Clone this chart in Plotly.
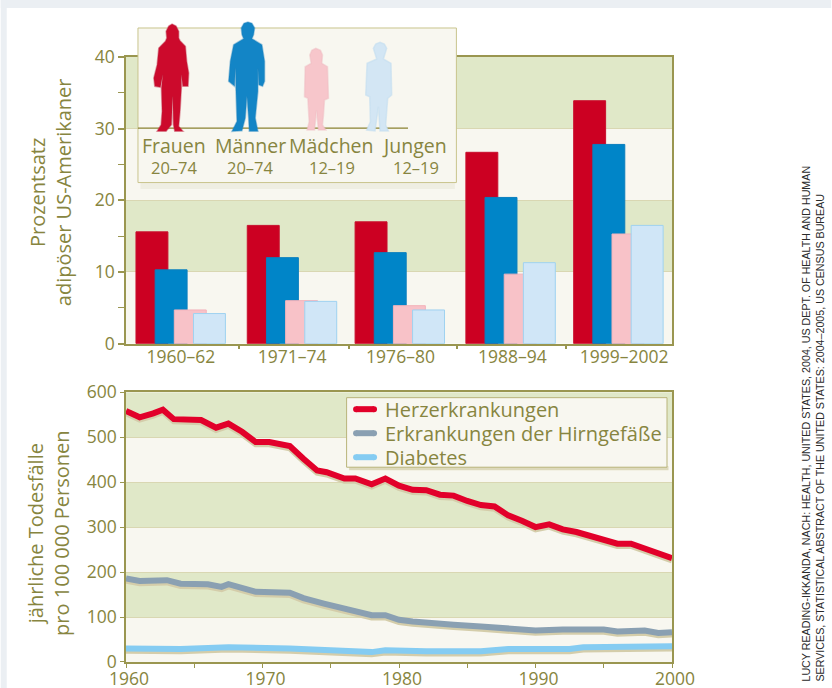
import plotly.graph_objects as go

W, H = 832, 688
# ---------- data ----------
periods = ["1960–62", "1971–74", "1976–80", "1988–94", "1999–2002"]
frauen = [15.6, 16.5, 17.0, 26.7, 33.9]
maenner = [10.3, 12.0, 12.7, 20.4, 27.8]
maedchen = [4.7, 6.0, 5.3, 9.7, 15.3]
jungen = [4.2, 5.9, 4.7, 11.3, 16.5]

herz_years = [1960, 1961, 1962, 1962.7, 1963.5, 1965.5, 1966.6, 1967.5, 1968.5, 1969.5, 1970.5, 1972, 1973, 1974,
              1974.7, 1976, 1976.8, 1978, 1979, 1980, 1981, 1982, 1983, 1984, 1985, 1986, 1987, 1988, 1989, 1990,
              1991, 1992, 1993, 1994, 1995, 1996, 1997, 1998, 1999, 2000]
herz = [558, 544, 553, 561, 540, 538, 521, 530, 512, 489, 489, 480, 452, 426,
        422, 408, 408, 395, 408, 392, 383, 382, 372, 370, 358, 349, 346, 326, 314, 300,
        306, 295, 289, 280, 272, 263, 263, 252, 241, 231]
hirn_years = [1960, 1961, 1963, 1964, 1966, 1967, 1967.5, 1969.5, 1972, 1973, 1974.5, 1976, 1978, 1979, 1980, 1981,
              1982, 1984, 1986, 1988, 1989, 1990, 1992, 1995, 1996, 1998, 1999, 2000]
hirn = [186, 180, 182, 174, 173, 167, 173, 156, 154, 142, 130, 119, 104, 104, 94, 90,
        87, 83, 79, 76, 73, 70, 72, 72, 68, 70, 64.5, 66]
diab_years = [1960, 1964, 1967.5, 1972, 1978, 1979, 1982, 1984, 1986, 1988, 1990, 1991, 1992.5, 1993.5, 1997, 2000]
diab = [30, 29, 33, 30, 22, 26, 24, 25, 24, 29, 29, 31, 29, 33, 33, 35]

inset_names = ["Frauen", "Männer", "Mädchen", "Jungen"]
inset_ages = ["20–74", "20–74", "12–19", "12–19"]
credit = ("LUCY READING-IKKANDA, NACH: HEALTH, UNITED STATES, 2004, US DEPT. OF HEALTH AND HUMAN<br>"
          "SERVICES, STATISTICAL ABSTRACT OF THE UNITED STATES: 2004–2005, US CENSUS BUREAU")

# ---------- style ----------
FONT = "Open Sans"
TXT = "#878540"
AX = "#9a9650"
GREEN = "#e0e8c8"
CREAM = "#f8f7f0"
GRID = "#d9d7b2"
SHADOW = "#d4cdaa"
L, R, T, B = 125.5, 672.5, 57, 661.7
TOP_BOTTOM, BOT_TOP = 343.5, 392


def px(x):
    return (x - L) / (R - L)


def py(y):
    return (B - y) / (B - T)


fig = go.Figure()

# ---------- bars: horizontal scale is plot pixels from the left axis ----------
group_left = [10, 121.5, 229.5, 340.5, 448.5]
bar_w = 32
bar_step = 19.2
bar_series = [("Frauen", frauen, "#cc0022", "#c8102e"), ("Männer", maenner, "#0085c8", "#0a7fbe"),
              ("Mädchen", maedchen, "#f8c2c8", "#f3b3bb"), ("Jungen", jungen, "#d0e6f7", "#9fd2f0")]
for i, (name, vals, col, edge) in enumerate(bar_series):
    fig.add_trace(go.Bar(x=[g + i * bar_step + bar_w / 2 for g in group_left], y=vals, width=bar_w, name=name,
                         marker=dict(color=col, line=dict(color=edge, width=1)), showlegend=False,
                         xaxis="x", yaxis="y"))

# ---------- lines ----------
SHIFT = 5
line_series = [("Herzerkrankungen", herz_years, herz, "#e2002a"),
               ("Erkrankungen der Hirngefäße", hirn_years, hirn, "#8aa0b2"),
               ("Diabetes", diab_years, diab, "#85ccf2")]
for name, xs, ys, col in line_series:
    fig.add_trace(go.Scatter(x=xs, y=[v - SHIFT for v in ys], mode="lines", showlegend=False, hoverinfo="skip",
                             line=dict(color=SHADOW, width=6), xaxis="x2", yaxis="y2"))
for name, xs, ys, col in line_series:
    fig.add_trace(go.Scatter(x=xs, y=ys, mode="lines", name=name, showlegend=False,
                             line=dict(color=col, width=6), xaxis="x2", yaxis="y2"))

# ---------- shapes ----------
shapes = []
# page edge
shapes.append(dict(type="rect", xref="paper", yref="paper", x0=px(0), x1=px(W), y0=py(8), y1=py(0), fillcolor="#ebeff3",
                   line_width=0, layer="below"))
shapes.append(dict(type="rect", xref="paper", yref="paper", x0=px(0), x1=px(6), y0=py(H), y1=py(0), fillcolor="#ebeff3",
                   line_width=0, layer="below"))
for lo in (10, 30):
    shapes.append(dict(type="rect", xref="x domain", yref="y", x0=0, x1=1, y0=lo, y1=lo + 10,
                       fillcolor=GREEN, line_width=0, layer="below"))
for lo in (100, 300, 500):
    shapes.append(dict(type="rect", xref="x2 domain", yref="y2", x0=0, x1=1, y0=lo, y1=lo + 100,
                       fillcolor=GREEN, line_width=0, layer="below"))
# inset box
shapes.append(dict(type="rect", xref="paper", yref="paper", x0=px(140), x1=px(455), y0=py(189), y1=py(182),
                   fillcolor="#efeee2", line_width=0, layer="above"))
shapes.append(dict(type="rect", xref="paper", yref="paper", x0=px(137.5), x1=px(456.5), y0=py(182.5), y1=py(28),
                   fillcolor=CREAM, line=dict(color="#c9c48c", width=1), layer="above"))


def outline(points, ox, oy):
    pts = [(ox + a / 3, oy + b / 3) for a, b in points]
    return "M " + " L ".join(f"{px(a):.5f} {py(b):.5f}" for a, b in pts) + " Z"


woman = [(62, 40), (70, 24), (80, 18), (92, 24), (100, 40), (100, 60), (104, 68), (120, 85), (124, 130), (130, 165),
         (128, 205), (112, 205), (108, 170), (108, 210), (104, 280), (100, 325), (113, 340), (88, 340), (84, 320),
         (82, 235), (78, 320), (62, 340), (35, 340), (47, 320), (50, 280), (48, 210), (52, 170), (45, 208), (28, 205),
         (25, 180), (35, 140), (40, 90), (60, 70), (64, 60)]
man = [(288, 30), (296, 16), (308, 12), (320, 16), (328, 30), (325, 50), (320, 62), (350, 80), (358, 130), (358, 190),
       (352, 205), (340, 200), (338, 150), (338, 220), (330, 300), (338, 340), (312, 340), (310, 300), (305, 235),
       (300, 300), (290, 338), (260, 340), (275, 310), (272, 220), (270, 150), (268, 205), (250, 190), (255, 130),
       (265, 80), (295, 62), (290, 50)]
girl = [(44, 60), (50, 46), (62, 40), (76, 46), (82, 60), (80, 85), (97, 95), (100, 190), (88, 195), (85, 240),
        (82, 270), (92, 285), (70, 285), (64, 225), (58, 285), (36, 285), (42, 260), (38, 190), (28, 185), (30, 95),
        (48, 85)]
boy = [(235, 40), (242, 27), (255, 22), (268, 27), (275, 40), (265, 72), (288, 85), (290, 180), (278, 190), (272, 270),
       (280, 288), (255, 288), (250, 215), (240, 288), (215, 285), (226, 260), (224, 185), (212, 180), (216, 85),
       (245, 72)]
figures = [(woman, 145, 18, "#cc0a2c", "rgba(190,30,60,0.4)"),
           (man, 145, 18, "#1385c6", "rgba(30,130,190,0.4)"),
           (girl, 295, 35, "#f7c6cb", "rgba(240,190,195,0.5)"),
           (boy, 295, 35, "#d3e6f4", "rgba(195,222,240,0.6)")]
shapes.append(dict(type="line", xref="paper", yref="paper", x0=px(137.5), x1=px(408), y0=py(128), y1=py(128),
                   line=dict(color="#8a8230", width=1.2), layer="above"))
for pts, ox, oy, col, edge in figures:
    shapes.append(dict(type="path", xref="paper", yref="paper", path=outline(pts, ox, oy), fillcolor=col,
                       line=dict(color=edge, width=1.5), layer="above"))
# legend box with shadow
shapes.append(dict(type="rect", xref="paper", yref="paper", x0=px(349), x1=px(669), y0=py(470), y1=py(466),
                   fillcolor="#ddd9bb", line_width=0, layer="above"))
shapes.append(dict(type="rect", xref="paper", yref="paper", x0=px(346.5), x1=px(667.5), y0=py(467), y1=py(397.5),
                   fillcolor=CREAM, line=dict(color="#b9b47a", width=1), layer="above"))

# ---------- annotations ----------
ann = []
name_x = [174, 250, 331, 415]
age_x = [174, 250, 332, 416]
for nm, ag, nx, ax in zip(inset_names, inset_ages, name_x, age_x):
    ann.append(dict(text=nm, x=px(nx), y=py(145), xref="paper", yref="paper", showarrow=False,
                    xanchor="center", yanchor="middle", font=dict(size=19.5, color=TXT, family=FONT)))
    ann.append(dict(text=ag, x=px(ax), y=py(167.5), xref="paper", yref="paper", showarrow=False,
                    xanchor="center", yanchor="middle", font=dict(size=16.5, color=TXT, family=FONT)))
ann.append(dict(text=credit, x=px(814), y=py(683), xref="paper", yref="paper", showarrow=False, textangle=-90,
                xanchor="center", yanchor="bottom", align="left",
                font=dict(size=10.7, color="#2a2a2a", family="Liberation Sans")))
# axis titles
ann.append(dict(text="Prozentsatz<br>adipöser US-Amerikaner", x=px(50), y=py(192.5), xref="paper", yref="paper",
                showarrow=False, textangle=-90, xanchor="center", yanchor="middle",
                font=dict(size=20, color=TXT, family=FONT)))
ann.append(dict(text="jährliche Todesfälle<br>pro 100 000 Personen", x=px(48), y=py(533), xref="paper", yref="paper",
                showarrow=False, textangle=-90, xanchor="center", yanchor="middle",
                font=dict(size=20, color=TXT, family=FONT)))
# legend rows
for (name, xs, ys, col), ly in zip(line_series, (409, 433, 457)):
    shapes.append(dict(type="line", xref="paper", yref="paper", x0=px(356), x1=px(374), y0=py(ly), y1=py(ly),
                       line=dict(color=col, width=6), layer="above"))
    shapes.append(dict(type="circle", xref="paper", yref="paper", x0=px(353), x1=px(359), y0=py(ly + 3), y1=py(ly - 3),
                       fillcolor=col, line_width=0, layer="above"))
    shapes.append(dict(type="circle", xref="paper", yref="paper", x0=px(371), x1=px(377), y0=py(ly + 3), y1=py(ly - 3),
                       fillcolor=col, line_width=0, layer="above"))
    ann.append(dict(text=name, x=px(383), y=py(ly), xref="paper", yref="paper", showarrow=False,
                    xanchor="left", yanchor="middle", font=dict(size=20, color=TXT, family=FONT)))

axis_font = dict(size=17.5, color=TXT, family=FONT)
fig.update_layout(
    width=W, height=H, paper_bgcolor="white", plot_bgcolor=CREAM, barmode="overlay",
    margin=dict(l=L, r=W - R, t=T, b=H - B, pad=0, autoexpand=False),
    font=dict(family=FONT, color=TXT),
    shapes=shapes, annotations=ann, showlegend=False,
    xaxis=dict(domain=[0, 1], anchor="y", range=[0, R - L], tickmode="array",
               tickvals=[55, 166.5, 275, 387, 499], ticktext=periods, ticks="", tickfont=axis_font,
               ticklabelstandoff=-3,
               minor=dict(tickmode="array", tickvals=[113.5, 223, 332, 441], ticks="outside", ticklen=4,
                          tickcolor=AX, tickwidth=1.5),
               showline=True, linecolor=AX, linewidth=1.5, mirror=True, showgrid=False, zeroline=False),
    yaxis=dict(domain=[py(TOP_BOTTOM), py(T)], anchor="x", range=[0, 40], tickmode="array",
               tickvals=[0, 10, 20, 30, 40], ticks="outside", ticklen=6, tickcolor=AX, tickwidth=1.5,
               minor=dict(tickmode="array", tickvals=[5, 15, 25, 35], ticks="outside", ticklen=6, tickcolor=AX,
                          tickwidth=1),
               tickfont=axis_font, showline=True, linecolor=AX, linewidth=1.5, mirror=True, showgrid=True,
               gridcolor=GRID, gridwidth=1, zeroline=False),
    xaxis2=dict(domain=[0, 1], anchor="y2", range=[1960, 2000], tickmode="array", tickvals=[1960, 1970, 1980, 1990, 2000],
                ticks="outside", ticklen=4, tickcolor=AX, tickwidth=1, ticklabelstandoff=-4, ticklabelshift=3,
                minor=dict(tickmode="array", tickvals=[1965, 1975, 1985, 1995], ticks="outside", ticklen=4,
                           tickcolor=AX, tickwidth=1),
                tickfont=axis_font, showline=True, linecolor=AX, linewidth=1.5, mirror=True, showgrid=False,
                zeroline=False),
    yaxis2=dict(domain=[0, py(BOT_TOP)], anchor="x2", range=[0, 600], tickmode="array",
                tickvals=[0, 100, 200, 300, 400, 500, 600], ticks="outside", ticklen=4, tickcolor=AX, tickwidth=1,
                tickfont=axis_font, showline=True, linecolor=AX, linewidth=1.5, mirror=True, showgrid=True,
                gridcolor=GRID, gridwidth=1, zeroline=False),
)

fig.write_html("out.html", post_script="document.body.style.margin='0';", config=dict(displayModeBar=False))
